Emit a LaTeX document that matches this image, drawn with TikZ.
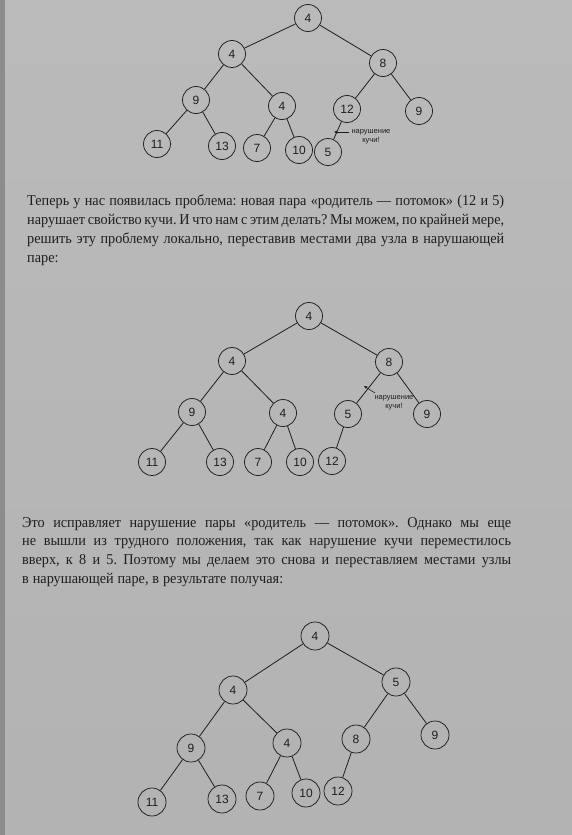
\documentclass[tikz,border=0pt]{standalone}
\usepackage{fontspec}
\setmainfont{Liberation Serif}[FakeStretch=0.95]
\newfontfamily\labelfont{Liberation Sans}
\usetikzlibrary{arrows.meta}

\definecolor{inkgray}{RGB}{30,30,30}
\newcommand\bookspacing{\frenchspacing\spaceskip=0.26em plus 0.6em minus 0.14em\relax}
\newcommand\bookline[1]{\hbox to \linewidth{#1}\par}

\begin{document}
\begin{tikzpicture}[
    x=1pt, y=-1pt,
    key/.style={circle, draw=inkgray, line width=0.75pt, minimum size=27pt, inner sep=0pt, font=\labelfont\fontsize{12}{12}\selectfont, text=inkgray},
    bigkey/.style={key, minimum size=28pt},
    link/.style={draw=inkgray, line width=0.8pt},
    warn/.style={font=\labelfont\fontsize{7.5}{9}\selectfont, align=center, text=inkgray},
    pointer/.style={-{Stealth[length=3.5pt, width=3pt]}, draw=inkgray, line width=0.6pt},
    para/.style={anchor=north west, inner sep=0pt, text=inkgray, font=\fontsize{15}{18.7}\selectfont}
]
\useasboundingbox (0,0) rectangle (572,835);

% Page
\shade[top color=black!27, middle color=black!10, bottom color=black!30] (0,0) rectangle (572,835);
\fill[black!45] (0,0) rectangle (5,835);

% First heap
\node[key] (a1) at (308,18) {4};
\node[key] (a2) at (232,54) {4};
\node[key] (a3) at (383,63) {8};
\node[key] (a4) at (196,100) {9};
\node[key] (a5) at (282,106) {4};
\node[key] (a6) at (347,109) {12};
\node[key] (a7) at (419,111) {9};
\node[key] (a8) at (157,144) {11};
\node[key] (a9) at (222,146) {13};
\node[key] (a10) at (257,148) {7};
\node[key] (a11) at (299,150) {10};
\node[key] (a12) at (328,152) {5};

\draw[link] (a1) -- (a2);
\draw[link] (a1) -- (a3);
\draw[link] (a2) -- (a4);
\draw[link] (a2) -- (a5);
\draw[link] (a3) -- (a6);
\draw[link] (a3) -- (a7);
\draw[link] (a4) -- (a8);
\draw[link] (a4) -- (a9);
\draw[link] (a5) -- (a10);
\draw[link] (a5) -- (a11);
\draw[link] (a6) -- (a12);

\node[warn] (warnA) at (371,137) {нарушение\\кучи!};
\coordinate (tailA) at (349,132);
\coordinate (tipA) at (334,132);
\draw[pointer] (tailA) -- (tipA);

% First paragraph
\node[para, text width=477pt] (textA) at (27,195) {\bookspacing
\bookline{Теперь у нас появилась проблема: новая пара «родитель — потомок» (12 и 5)}
\bookline{нарушает свойство кучи. И что нам с этим делать? Мы можем, по крайней мере,}
\bookline{решить эту проблему локально, переставив местами два узла в нарушающей}
\hbox{паре:}};

% Second heap
\node[key] (b1) at (309,316) {4};
\node[key] (b2) at (232,361) {4};
\node[key] (b3) at (389,362) {8};
\node[key] (b4) at (192,412) {9};
\node[key] (b5) at (283,413) {4};
\node[key] (b6) at (348,414) {5};
\node[key] (b7) at (427,414) {9};
\node[key] (b8) at (152,462) {11};
\node[key] (b9) at (220,462) {13};
\node[key] (b10) at (258,462) {7};
\node[key] (b11) at (300,462) {10};
\node[key] (b12) at (332,461) {12};

\draw[link] (b1) -- (b2);
\draw[link] (b1) -- (b3);
\draw[link] (b2) -- (b4);
\draw[link] (b2) -- (b5);
\draw[link] (b3) -- (b6);
\draw[link] (b3) -- (b7);
\draw[link] (b4) -- (b8);
\draw[link] (b4) -- (b9);
\draw[link] (b5) -- (b10);
\draw[link] (b5) -- (b11);
\draw[link] (b6) -- (b12);

\node[warn] (warnB) at (394,403) {нарушение\\кучи!};
\coordinate (tailB) at (375,393);
\coordinate (tipB) at (364,386);
\draw[pointer] (tailB) -- (tipB);

% Second paragraph
\node[para, text width=489pt] (textB) at (22,517) {\bookspacing
\bookline{Это исправляет нарушение пары «родитель — потомок». Однако мы еще}
\bookline{не вышли из трудного положения, так как нарушение кучи переместилось}
\bookline{вверх, к 8 и 5. Поэтому мы делаем это снова и переставляем местами узлы}
\hbox{в нарушающей паре, в результате получая:}};

% Third heap
\node[bigkey] (c1) at (315,636) {4};
\node[bigkey] (c2) at (233,690) {4};
\node[bigkey] (c3) at (396,682) {5};
\node[bigkey] (c4) at (191,748) {9};
\node[bigkey] (c5) at (287,743) {4};
\node[bigkey] (c6) at (356,739) {8};
\node[bigkey] (c7) at (435,735) {9};
\node[bigkey] (c8) at (152,802) {11};
\node[bigkey] (c9) at (222,799) {13};
\node[bigkey] (c10) at (260,796) {7};
\node[bigkey] (c11) at (306,793) {10};
\node[bigkey] (c12) at (338,791) {12};

\draw[link] (c1) -- (c2);
\draw[link] (c1) -- (c3);
\draw[link] (c2) -- (c4);
\draw[link] (c2) -- (c5);
\draw[link] (c3) -- (c6);
\draw[link] (c3) -- (c7);
\draw[link] (c4) -- (c8);
\draw[link] (c4) -- (c9);
\draw[link] (c5) -- (c10);
\draw[link] (c5) -- (c11);
\draw[link] (c6) -- (c12);

\end{tikzpicture}
\end{document}
